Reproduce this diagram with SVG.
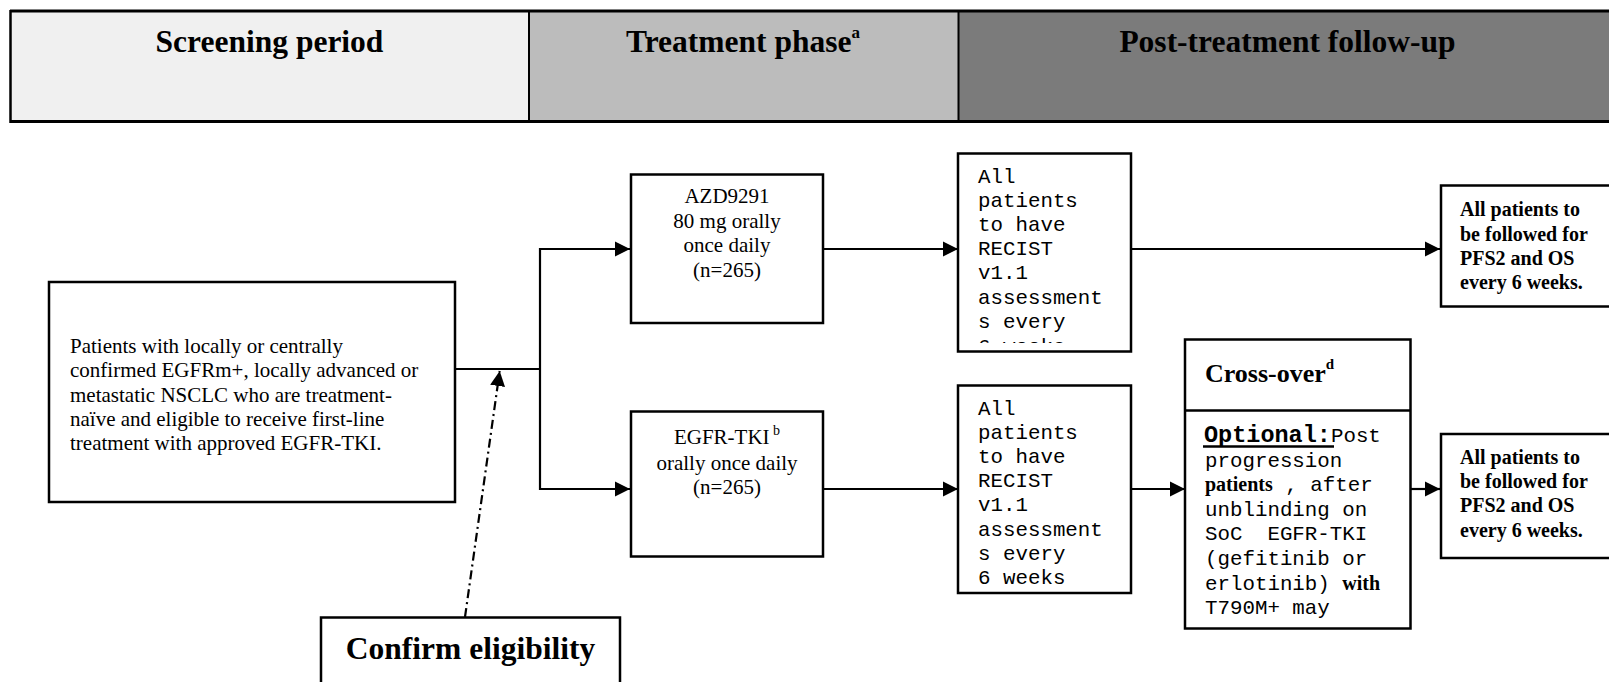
<svg xmlns="http://www.w3.org/2000/svg" width="1609" height="682" viewBox="0 0 1609 682">
<style>
.box{fill:#fff;stroke:#000;stroke-width:2.5}
.hd{font-family:"Liberation Serif","Times New Roman",serif;font-weight:bold;font-size:31.5px;fill:#000}
.ser{font-family:"Liberation Serif","Times New Roman",serif;font-size:21px;fill:#000}
.serb{font-family:"Liberation Serif","Times New Roman",serif;font-size:20px;font-weight:bold;fill:#000}
.mono{font-family:"Liberation Mono","Courier New",monospace;font-size:20.8px;fill:#000;white-space:pre}
.con{fill:none;stroke:#000;stroke-width:2.2}
</style>
<defs>
<marker id="ah" markerUnits="userSpaceOnUse" markerWidth="16" markerHeight="16" refX="15" refY="8" orient="auto">
<path d="M0,0.5 L15,8 L0,15.5 z" fill="#000"/>
</marker>
<clipPath id="clipTop"><rect x="958" y="154" width="173" height="189"/></clipPath>
<clipPath id="clipCross"><rect x="1185" y="411" width="225" height="217"/></clipPath>
</defs>

<g id="header">
<rect x="10" y="11" width="519" height="110" fill="#f0f0f0"/>
<rect x="529" y="11" width="429" height="110" fill="#bcbcbc"/>
<rect x="958" y="11" width="660" height="110" fill="#7b7b7b"/>
<line x1="10" y1="11" x2="1609" y2="11" stroke="#000" stroke-width="3"/>
<line x1="10" y1="121.5" x2="1609" y2="121.5" stroke="#000" stroke-width="3"/>
<line x1="10.5" y1="10" x2="10.5" y2="123" stroke="#000" stroke-width="2.5"/>
<line x1="529" y1="11" x2="529" y2="121" stroke="#000" stroke-width="2"/>
<line x1="958.5" y1="11" x2="958.5" y2="121" stroke="#000" stroke-width="2"/>
<text class="hd" x="269.5" y="52" text-anchor="middle">Screening period</text>
<text class="hd" x="626" y="52">Treatment phase<tspan style="font-size:17px" dy="-14">a</tspan></text>
<text class="hd" x="1287.5" y="52" text-anchor="middle">Post-treatment follow-up</text>
</g>

<g id="node-patients">
<rect class="box" x="49" y="282" width="406" height="220"/>
<text class="ser" x="70" y="353">Patients with locally or centrally</text>
<text class="ser" x="70" y="377.3">confirmed EGFRm+, locally advanced or</text>
<text class="ser" x="70" y="401.6">metastatic NSCLC who are treatment-</text>
<text class="ser" x="70" y="425.9">naïve and eligible to receive first-line</text>
<text class="ser" x="70" y="450.2">treatment with approved EGFR-TKI.</text>
</g>

<g id="node-azd">
<rect class="box" x="631" y="174.5" width="192" height="148.5"/>
<text class="ser" x="727" y="203" text-anchor="middle">AZD9291</text>
<text class="ser" x="727" y="228" text-anchor="middle">80 mg orally</text>
<text class="ser" x="727" y="252" text-anchor="middle">once daily</text>
<text class="ser" x="727" y="276.5" text-anchor="middle">(n=265)</text>
</g>

<g id="node-egfr">
<rect class="box" x="631" y="411.5" width="192" height="145"/>
<text class="ser" x="727" y="444" text-anchor="middle">EGFR-TKI<tspan style="font-size:14px" dy="-9"> b</tspan></text>
<text class="ser" x="727" y="470" text-anchor="middle" dy="0">orally once daily</text>
<text class="ser" x="727" y="493.5" text-anchor="middle">(n=265)</text>
</g>

<g id="node-recist-top">
<rect class="box" x="958" y="153.5" width="173" height="198"/>
<g clip-path="url(#clipTop)">
<text class="mono" x="978" y="183">All</text>
<text class="mono" x="978" y="207.1">patients</text>
<text class="mono" x="978" y="231.2">to have</text>
<text class="mono" x="978" y="255.3">RECIST</text>
<text class="mono" x="978" y="279.4">v1.1</text>
<text class="mono" x="978" y="303.5">assessment</text>
<text class="mono" x="978" y="327.6">s every</text>
<text class="mono" x="978" y="353">6 weeks</text>
</g>
</g>

<g id="node-recist-bottom">
<rect class="box" x="958" y="385.5" width="173" height="207.5"/>
<text class="mono" x="978" y="415">All</text>
<text class="mono" x="978" y="439.1">patients</text>
<text class="mono" x="978" y="463.2">to have</text>
<text class="mono" x="978" y="487.3">RECIST</text>
<text class="mono" x="978" y="511.4">v1.1</text>
<text class="mono" x="978" y="535.5">assessment</text>
<text class="mono" x="978" y="559.6">s every</text>
<text class="mono" x="978" y="583.7">6 weeks</text>
</g>

<g id="node-crossover">
<rect class="box" x="1185" y="339.5" width="225.5" height="289"/>
<line x1="1185" y1="410.5" x2="1410.5" y2="410.5" stroke="#000" stroke-width="2.5"/>
<text class="serb" x="1205" y="382" style="font-size:26px">Cross-over<tspan style="font-size:15px" dy="-13">d</tspan></text>
<g clip-path="url(#clipCross)">
<text class="mono" x="1204" y="442"><tspan style="font-weight:bold;font-size:23.5px">Optional:</tspan>Post</text>
<line x1="1203" y1="446.5" x2="1334" y2="446.5" stroke="#000" stroke-width="2.5"/>
<text class="mono" x="1205" y="466.6">progression</text>
<text x="1205" y="491.2"><tspan class="serb">patients</tspan><tspan class="mono"> , after</tspan></text>
<text class="mono" x="1205" y="515.8">unblinding on</text>
<text class="mono" x="1205" y="540.4">SoC  EGFR-TKI</text>
<text class="mono" x="1205" y="565">(gefitinib or</text>
<text x="1205" y="589.6"><tspan class="mono">erlotinib) </tspan><tspan class="serb">with</tspan></text>
<text class="mono" x="1205" y="614.2">T790M+ may</text>
</g>
</g>

<g id="node-followup-top">
<rect class="box" x="1441" y="185.5" width="180" height="121"/>
<text class="serb" x="1460" y="216">All patients to</text>
<text class="serb" x="1460" y="240.5">be followed for</text>
<text class="serb" x="1460" y="265">PFS2 and OS</text>
<text class="serb" x="1460" y="289">every 6 weeks.</text>
</g>

<g id="node-followup-bottom">
<rect class="box" x="1441" y="434" width="180" height="124"/>
<text class="serb" x="1460" y="463.5">All patients to</text>
<text class="serb" x="1460" y="488">be followed for</text>
<text class="serb" x="1460" y="512">PFS2 and OS</text>
<text class="serb" x="1460" y="536.5">every 6 weeks.</text>
</g>

<g id="node-confirm">
<rect class="box" x="321" y="617.5" width="299" height="80"/>
<text class="hd" x="470.5" y="658.5" text-anchor="middle">Confirm eligibility</text>
</g>

<g id="connectors">
<path class="con" d="M455,369 H540"/>
<path class="con" d="M540,248 V490"/>
<path class="con" d="M540,249 H630" marker-end="url(#ah)"/>
<path class="con" d="M540,489 H630" marker-end="url(#ah)"/>
<path class="con" d="M823,249 H958" marker-end="url(#ah)"/>
<path class="con" d="M823,489 H958" marker-end="url(#ah)"/>
<path class="con" d="M1131,249 H1440" marker-end="url(#ah)"/>
<path class="con" d="M1131,489 H1185" marker-end="url(#ah)"/>
<path class="con" d="M1410,489 H1440" marker-end="url(#ah)"/>
<path class="con" d="M465,617 L499.7,371" stroke-dasharray="9 4 2 4" marker-end="url(#ah)"/>
</g>
</svg>
